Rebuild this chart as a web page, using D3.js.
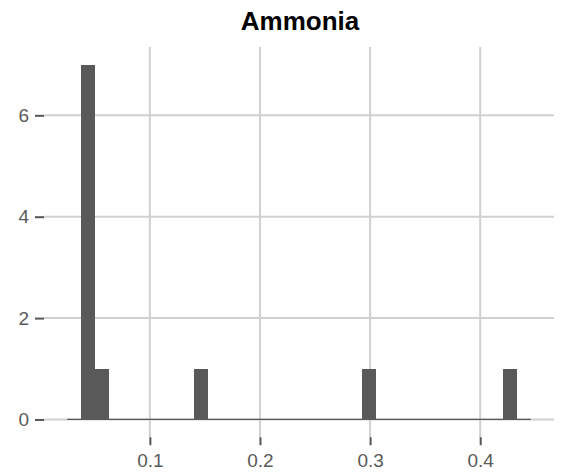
<!DOCTYPE html>
<html>
<head>
<meta charset="utf-8">
<script src="https://cdn.jsdelivr.net/npm/d3@7"></script>
<style>
  html, body { margin: 0; padding: 0; background: #ffffff; }
  svg { display: block; }
</style>
</head>
<body>
<svg id="chart" width="562" height="476"></svg>
<script>
// ---- data ----
const title = "Ammonia";
const binStart = 0.0249;       // left edge of first bin
const binWidth = 0.01276;      // bin width
const binCounts = [0, 7, 1, 0, 0, 0, 0, 0, 0, 1, 0, 0, 0, 0, 0, 0, 0, 0, 0, 0, 0, 1, 0, 0, 0, 0, 0, 0, 0, 0, 0, 1, 0];
const xTicks = [0.1, 0.2, 0.3, 0.4];
const xTickLabels = ["0.1", "0.2", "0.3", "0.4"];
const yTicks = [0, 2, 4, 6];
const yTickLabels = ["0", "2", "4", "6"];

// ---- bins ----
const bins = binCounts.map((c, i) => ({
  x0: binStart + i * binWidth,
  x1: binStart + (i + 1) * binWidth,
  count: c
}));

const W = 562, H = 476;
const panel = { left: 44, right: 554, top: 46.9, bottom: 437.2 };

const xMin = bins[0].x0, xMax = bins[bins.length - 1].x1;
const xPad = (xMax - xMin) * 0.05;
const yMaxVal = d3.max(binCounts);
const yPad = yMaxVal * 0.05;

const x = d3.scaleLinear().domain([xMin - xPad, xMax + xPad]).range([panel.left, panel.right]);
const y = d3.scaleLinear().domain([-yPad, yMaxVal + yPad]).range([panel.bottom, panel.top]);

const svg = d3.select("#chart");
const font = "'Liberation Sans', Arial, Helvetica, sans-serif";

// gridlines
const grid = svg.append("g");
grid.selectAll("line.gy").data(yTicks).join("line")
  .attr("x1", panel.left).attr("x2", panel.right)
  .attr("y1", d => y(d)).attr("y2", d => y(d))
  .attr("stroke", "#d0d0d0").attr("stroke-width", 2);
grid.selectAll("line.gx").data(xTicks).join("line")
  .attr("x1", d => x(d)).attr("x2", d => x(d))
  .attr("y1", panel.top).attr("y2", panel.bottom)
  .attr("stroke", "#d0d0d0").attr("stroke-width", 2);

// baseline over bins (zero-height bins)
svg.append("line")
  .attr("x1", x(xMin)).attr("x2", x(xMax))
  .attr("y1", y(0)).attr("y2", y(0))
  .attr("stroke", "#595959").attr("stroke-width", 1.2);

// bars
svg.append("g").attr("shape-rendering", "crispEdges")
  .selectAll("rect").data(bins.filter(b => b.count > 0)).join("rect")
  .attr("x", d => x(d.x0))
  .attr("width", d => x(d.x1) - x(d.x0))
  .attr("y", d => y(d.count))
  .attr("height", d => y(0) - y(d.count))
  .attr("fill", "#595959");

// y axis
const yAxis = d3.axisLeft(y).tickValues(yTicks).tickFormat((d, i) => yTickLabels[i]).tickSize(9).tickPadding(6);
const gy = svg.append("g").attr("transform", `translate(${panel.left},0)`).call(yAxis);
gy.select(".domain").remove();
gy.selectAll(".tick line").attr("stroke", "#555555").attr("stroke-width", 2);
gy.selectAll(".tick text").attr("fill", "#5a5a5a").attr("font-size", "19px").attr("font-family", font);

// x axis
const xAxis = d3.axisBottom(x).tickValues(xTicks).tickFormat((d, i) => xTickLabels[i]).tickSize(8).tickPadding(8);
const gx = svg.append("g").attr("transform", `translate(0,${panel.bottom})`).call(xAxis);
gx.select(".domain").remove();
gx.selectAll(".tick line").attr("stroke", "#555555").attr("stroke-width", 2);
gx.selectAll(".tick text").attr("fill", "#5a5a5a").attr("font-size", "19px").attr("font-family", font);

// title
svg.append("text")
  .attr("x", (panel.left + panel.right) / 2 + 1)
  .attr("y", 29.5)
  .attr("text-anchor", "middle")
  .attr("font-family", font)
  .attr("font-weight", "bold")
  .attr("font-size", "26px")
  .attr("fill", "#000000")
  .text(title);
</script>
</body>
</html>
